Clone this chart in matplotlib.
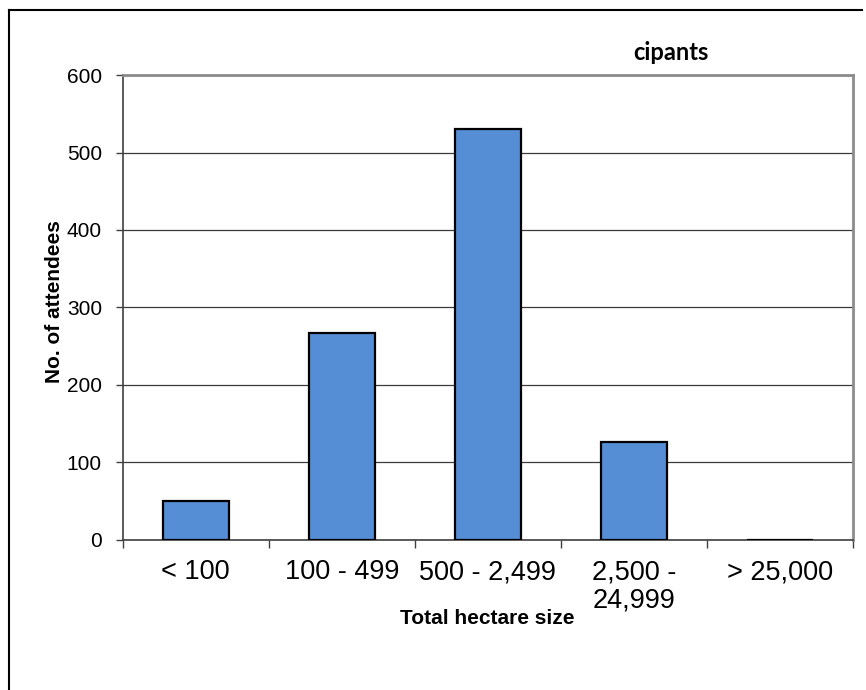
import matplotlib.pyplot as plt
from matplotlib.lines import Line2D
import numpy as np

### Data
categories = ['< 100', '100 - 499', '500 - 2,499', '2,500 -\n24,999', '> 25,000']
attendees = [50, 267, 530, 127, 0]
y_ticks = [0, 100, 200, 300, 400, 500, 600]

### Style
bar_color = '#558ED5'
plt.rcParams['font.family'] = ['Liberation Sans', 'DejaVu Sans']

fig = plt.figure(figsize=(8.66, 6.9), dpi=100)
ax = fig.add_axes([0.1417, 0.2174, 0.8433, 0.6739])

x = np.arange(len(categories))
ax.bar(x, attendees, width=0.455, color=bar_color, edgecolor='black',
       linewidth=1.6, zorder=3)

# y axis
ax.set_ylim(0, 600)
ax.set_yticks(y_ticks)
ax.tick_params(axis='y', which='major', length=5, width=1, color='#404040',
               labelsize=15, pad=10)
ax.yaxis.grid(True, color='#3a3a3a', linewidth=0.9, zorder=0)

# x axis: ticks at category boundaries, labels at centres
ax.set_xlim(-0.5, len(categories) - 0.5)
ax.set_xticks(np.arange(-0.5, len(categories), 1.0))
ax.set_xticklabels([])
ax.tick_params(axis='x', which='major', length=6, width=1, color='#404040')
ax.set_xticks(x, minor=True)
ax.set_xticklabels(categories, minor=True)
ax.tick_params(axis='x', which='minor', length=0, labelsize=19.5, pad=14)
for lbl in ax.get_xticklabels(minor=True):
    lbl.set_linespacing(1.1)

for side in ['top', 'right']:
    ax.spines[side].set_color('#8c8c8c')
    ax.spines[side].set_linewidth(2)
for side in ['left', 'bottom']:
    ax.spines[side].set_color('#404040')
    ax.spines[side].set_linewidth(1.2)

fig.text(487 / 866, 1 - 618 / 690, 'Total hectare size', fontsize=15,
         fontweight='bold', ha='center', va='center')
fig.text(55 / 866, 1 - 302 / 690, 'No. of attendees', fontsize=15,
         fontweight='bold', ha='center', va='center', rotation=90)

# partial title (clipped in the original)
fig.text(671 / 866, 1 - 53 / 690, 'cipants', fontsize=17, fontweight='bold',
         family=['Lato', 'DejaVu Sans'], ha='center', va='center')

# outer frame (only top and left visible)
fig.add_artist(Line2D([9 / 866, 862 / 866], [1 - 10 / 690, 1 - 10 / 690],
                      color='black', linewidth=1.5))
fig.add_artist(Line2D([9 / 866, 9 / 866], [1 - 10 / 690, 0],
                      color='black', linewidth=1.5))

fig.savefig('out.png', dpi=100)
